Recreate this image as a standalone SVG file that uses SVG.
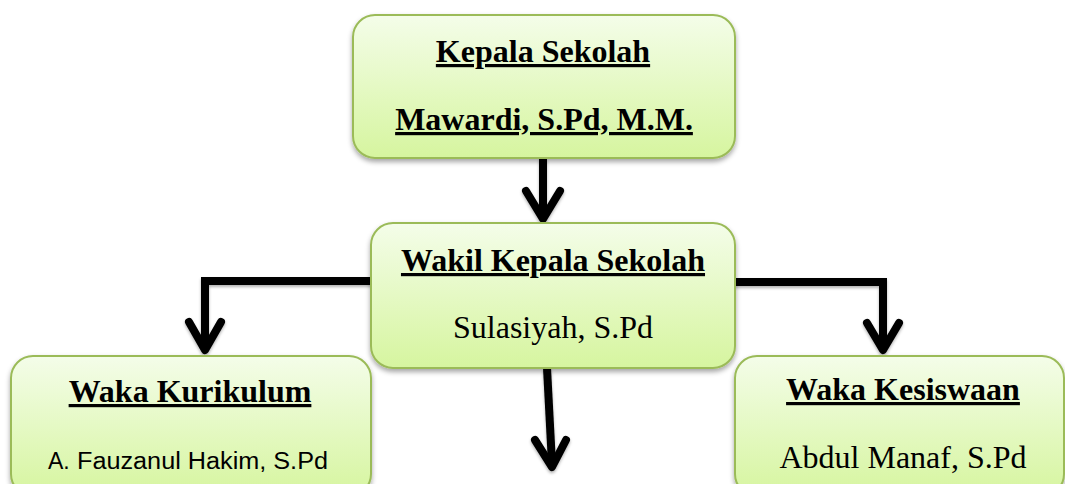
<svg xmlns="http://www.w3.org/2000/svg" width="1065" height="484" viewBox="0 0 1065 484">
  <defs>
    <linearGradient id="boxFill" x1="0" y1="0" x2="0" y2="1">
      <stop offset="0" stop-color="#f4fde9"/>
      <stop offset="1" stop-color="#d6f59f"/>
    </linearGradient>
    <filter id="shadow" x="-10%" y="-10%" width="120%" height="130%">
      <feDropShadow dx="0" dy="3" stdDeviation="2.5" flood-color="#000" flood-opacity="0.35"/>
    </filter>
    <filter id="lshadow" x="-20%" y="-20%" width="140%" height="140%">
      <feDropShadow dx="0" dy="2" stdDeviation="1.5" flood-color="#000" flood-opacity="0.3"/>
    </filter>
  </defs>
  <style>
    .box { fill: url(#boxFill); stroke: #9bbb59; stroke-width: 2; filter: url(#shadow); }
    .title { font-family: "Liberation Serif", "Times New Roman", serif; font-size: 32px; font-weight: bold; fill: #000; text-anchor: middle; text-decoration: underline; text-decoration-thickness: 3px; }
    .name { font-family: "Liberation Serif", "Times New Roman", serif; font-size: 32px; fill: #000; text-anchor: middle; }
    .sans { font-family: "Liberation Sans", Arial, sans-serif; font-size: 23px; fill: #000; }
    .conn { fill: none; stroke: #000; stroke-width: 8; stroke-linejoin: miter; }
    .head { fill: none; stroke: #000; stroke-width: 8; stroke-linecap: round; stroke-linejoin: round; }
  </style>

  <g id="connectors" filter="url(#lshadow)">
    <!-- Kepala -> Wakil -->
    <line class="conn" x1="543" y1="158" x2="543" y2="218"/>
    <polyline class="head" points="526,191 543,219 560,191"/>
    <!-- Wakil -> Kurikulum -->
    <polyline class="conn" points="372,281 205,281 205,350"/>
    <polyline class="head" points="189,322 205,350 221,322"/>
    <!-- Wakil -> Kesiswaan -->
    <polyline class="conn" points="734,282 883,282 883,349"/>
    <polyline class="head" points="867,323 883,350 899,323"/>
    <!-- Wakil -> down -->
    <line class="conn" x1="547" y1="368" x2="552" y2="464"/>
    <polyline class="head" points="535,440 552,467 566,440"/>
  </g>

  <g id="kepala">
    <rect class="box" x="353" y="15" width="382" height="143" rx="22"/>
    <text class="title" x="543" y="62">Kepala Sekolah</text>
    <text class="title" x="544" y="130">Mawardi, S.Pd, M.M.</text>
  </g>

  <g id="wakil">
    <rect class="box" x="371" y="223" width="364" height="145" rx="22"/>
    <text class="title" x="553" y="271">Wakil Kepala Sekolah</text>
    <text class="name" x="553" y="338">Sulasiyah, S.Pd</text>
  </g>

  <g id="kurikulum">
    <rect class="box" x="11" y="356" width="360" height="140" rx="22"/>
    <text class="title" x="190" y="402">Waka Kurikulum</text>
    <text class="sans" x="48" y="469">A.</text>
    <text class="sans" x="77" y="469" textLength="251" lengthAdjust="spacingAndGlyphs">Fauzanul Hakim, S.Pd</text>
  </g>

  <g id="kesiswaan">
    <rect class="box" x="735" y="356" width="329" height="140" rx="22"/>
    <text class="title" x="903" y="400">Waka Kesiswaan</text>
    <text class="name" x="903" y="468">Abdul Manaf, S.Pd</text>
  </g>
</svg>
